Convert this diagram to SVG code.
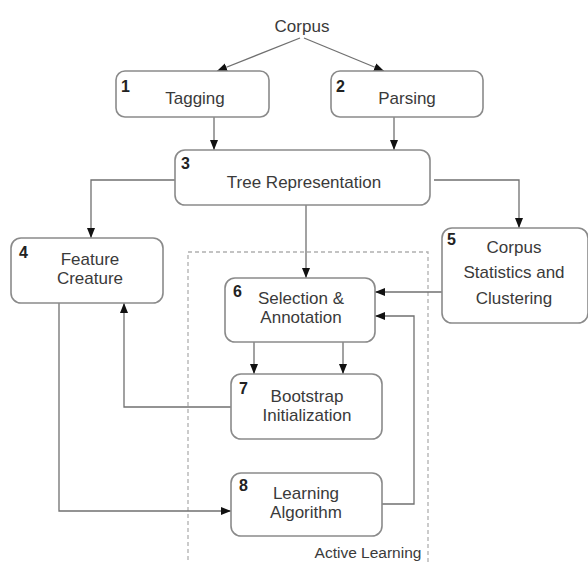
<svg xmlns="http://www.w3.org/2000/svg" width="588" height="562" viewBox="0 0 588 562">
  <defs>
    <marker id="arrow" markerUnits="userSpaceOnUse" markerWidth="10" markerHeight="10" viewBox="0 0 10 10" refX="10" refY="5" orient="auto">
      <path d="M0,1 L10,5 L0,9 Z" fill="#111"/>
    </marker>
  </defs>
  <style>
    .box { fill: #fff; stroke: #8a8a8a; stroke-width: 1.6; }
    .edge { fill: none; stroke: #707070; stroke-width: 1.3; marker-end: url(#arrow); }
    .label { font-family: "Liberation Sans", Arial, sans-serif; font-size: 17px; fill: #3a3a3a; text-anchor: middle; }
    .num { font-family: "Liberation Sans", Arial, sans-serif; font-size: 16px; font-weight: bold; fill: #222; }
    .group { fill: none; stroke: #b0b0b0; stroke-width: 1.3; stroke-dasharray: 4 3; }
    .caption { font-family: "Liberation Sans", Arial, sans-serif; font-size: 15.5px; fill: #3a3a3a; text-anchor: middle; }
  </style>
  <rect width="588" height="562" fill="#fff"/>

  <!-- Active Learning region -->
  <g id="active-learning">
    <rect class="group" x="188" y="252" width="240" height="320"/>
    <text class="caption" x="368" y="558">Active Learning</text>
  </g>

  <!-- connectors -->
  <g id="connectors">
    <path class="edge" d="M300,38 L217,71"/>
    <path class="edge" d="M304,38 L384,71"/>
    <path class="edge" d="M214,117 L214,150"/>
    <path class="edge" d="M394,117 L394,150"/>
    <path class="edge" d="M175,180 L91,180 L91,238"/>
    <path class="edge" d="M434,180 L519,180 L519,228"/>
    <path class="edge" d="M306,205 L306,278"/>
    <path class="edge" d="M442,292 L375,292"/>
    <path class="edge" d="M254,342 L254,374"/>
    <path class="edge" d="M343,342 L343,374"/>
    <path class="edge" d="M231,407 L124,407 L124,303"/>
    <path class="edge" d="M59,303 L59,511 L231,511"/>
    <path class="edge" d="M382,504 L414,504 L414,316 L375,316"/>
  </g>

  <g id="corpus">
    <text class="label" x="302" y="32">Corpus</text>
  </g>

  <g id="tagging">
    <rect class="box" x="116" y="71" width="153" height="46" rx="9"/>
    <text class="num" x="121" y="92">1</text>
    <text class="label" x="195" y="104">Tagging</text>
  </g>

  <g id="parsing">
    <rect class="box" x="331" y="71" width="152" height="46" rx="9"/>
    <text class="num" x="336" y="92">2</text>
    <text class="label" x="407" y="104">Parsing</text>
  </g>

  <g id="tree-representation">
    <rect class="box" x="175" y="150" width="255" height="55" rx="10"/>
    <text class="num" x="181" y="169">3</text>
    <text class="label" x="304" y="188">Tree Representation</text>
  </g>

  <g id="feature-creature">
    <rect class="box" x="11" y="238" width="152" height="65" rx="10"/>
    <text class="num" x="19" y="258">4</text>
    <text class="label" x="90" y="265">Feature</text>
    <text class="label" x="90" y="284">Creature</text>
  </g>

  <g id="corpus-statistics">
    <rect class="box" x="442" y="228" width="146" height="95" rx="10"/>
    <text class="num" x="447" y="245">5</text>
    <text class="label" x="514" y="253">Corpus</text>
    <text class="label" x="514" y="278">Statistics and</text>
    <text class="label" x="514" y="304">Clustering</text>
  </g>

  <g id="selection-annotation">
    <rect class="box" x="225" y="278" width="150" height="64" rx="10"/>
    <text class="num" x="233" y="297">6</text>
    <text class="label" x="301" y="304">Selection &amp;</text>
    <text class="label" x="301" y="323">Annotation</text>
  </g>

  <g id="bootstrap-initialization">
    <rect class="box" x="231" y="374" width="151" height="65" rx="10"/>
    <text class="num" x="239" y="394">7</text>
    <text class="label" x="307" y="402">Bootstrap</text>
    <text class="label" x="307" y="421">Initialization</text>
  </g>

  <g id="learning-algorithm">
    <rect class="box" x="231" y="473" width="151" height="63" rx="10"/>
    <text class="num" x="239" y="491">8</text>
    <text class="label" x="306" y="499">Learning</text>
    <text class="label" x="306" y="518">Algorithm</text>
  </g>
</svg>
